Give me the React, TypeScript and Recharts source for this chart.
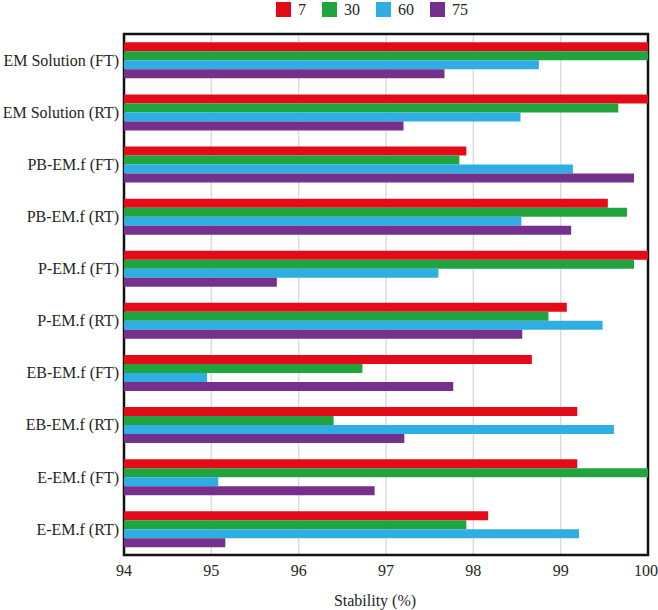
import {
  BarChart,
  Bar,
  XAxis,
  YAxis,
  CartesianGrid,
  Legend,
  ReferenceArea,
} from 'recharts'

const groups = [
  'EM Solution (FT)',
  'EM Solution (RT)',
  'PB-EM.f (FT)',
  'PB-EM.f (RT)',
  'P-EM.f (FT)',
  'P-EM.f (RT)',
  'EB-EM.f (FT)',
  'EB-EM.f (RT)',
  'E-EM.f (FT)',
  'E-EM.f (RT)',
]

const day7 = [100, 100, 97.92, 99.54, 100, 99.07, 98.67, 99.19, 99.19, 98.17]
const day30 = [100, 99.66, 97.84, 99.76, 99.84, 98.86, 96.73, 96.4, 100, 97.92]
const day60 = [98.75, 98.54, 99.14, 98.55, 97.6, 99.48, 94.95, 99.61, 95.08, 99.21]
const day75 = [97.67, 97.2, 99.84, 99.12, 95.75, 98.56, 97.77, 97.21, 96.87, 95.16]

const xTicks = [94, 95, 96, 97, 98, 99, 100]

const series = [
  { key: 'd7', name: '7', color: '#e30b17' },
  { key: 'd30', name: '30', color: '#21a33f' },
  { key: 'd60', name: '60', color: '#2eaee3' },
  { key: 'd75', name: '75', color: '#74308a' },
]

const data = groups.map((name, i) => ({
  name,
  d7: day7[i],
  d30: day30[i],
  d60: day60[i],
  d75: day75[i],
}))

const font = 'Liberation Serif'
const textColor = '#231f20'

function SwatchLegend() {
  return (
    <div
      style={{
        height: 34,
        display: 'flex',
        alignItems: 'flex-start',
        paddingLeft: 276,
        paddingTop: 2,
        boxSizing: 'border-box',
        fontFamily: font,
        fontSize: 16,
        color: textColor,
      }}
    >
      {series.map((s) => (
        <div key={s.key} style={{ display: 'flex', alignItems: 'center', marginRight: 16 }}>
          <span style={{ width: 15, height: 15, background: s.color, marginRight: 7, display: 'inline-block' }} />
          <span style={{ lineHeight: '15px' }}>{s.name}</span>
        </div>
      ))}
    </div>
  )
}

export default function App() {
  return (
    <div style={{ position: 'absolute', left: 0, top: 0, background: '#fff', fontFamily: font }}>
      <BarChart
        width={658}
        height={610}
        data={data}
        layout="vertical"
        margin={{ top: 0, right: 10, bottom: 0, left: 0 }}
        barCategoryGap="16%"
        barGap={0}
        style={{ fontFamily: font }}
      >
        <Legend
          verticalAlign="top"
          align="left"
          content={<SwatchLegend />}
          wrapperStyle={{ left: 0, top: 0, width: 658 }}
        />
        <CartesianGrid horizontal={false} stroke="#dcdcdc" strokeWidth={1.5} />
        <XAxis
          type="number"
          domain={[94, 100]}
          ticks={xTicks}
          allowDataOverflow
          axisLine={false}
          tickLine={false}
          tickSize={0}
          tickMargin={10}
          height={55}
          tick={{ fontSize: 16, fill: textColor, fontFamily: font }}
          label={{
            value: 'Stability (%)',
            position: 'insideBottom',
            offset: 4,
            dx: -11,
            fontSize: 16,
            fill: textColor,
            fontFamily: font,
          }}
        />
        <YAxis
          type="category"
          dataKey="name"
          width={124}
          axisLine={false}
          tickLine={false}
          tickSize={0}
          tickMargin={5}
          interval={0}
          tick={{ fontSize: 16, fill: textColor, fontFamily: font }}
        />
        {series.map((s) => (
          <Bar key={s.key} dataKey={s.key} name={s.name} fill={s.color} isAnimationActive={false} />
        ))}
        <ReferenceArea
          x1={94}
          x2={100}
          fill="none"
          stroke="#111"
          strokeWidth={2.5}
          ifOverflow="visible"
        />
      </BarChart>
    </div>
  )
}
